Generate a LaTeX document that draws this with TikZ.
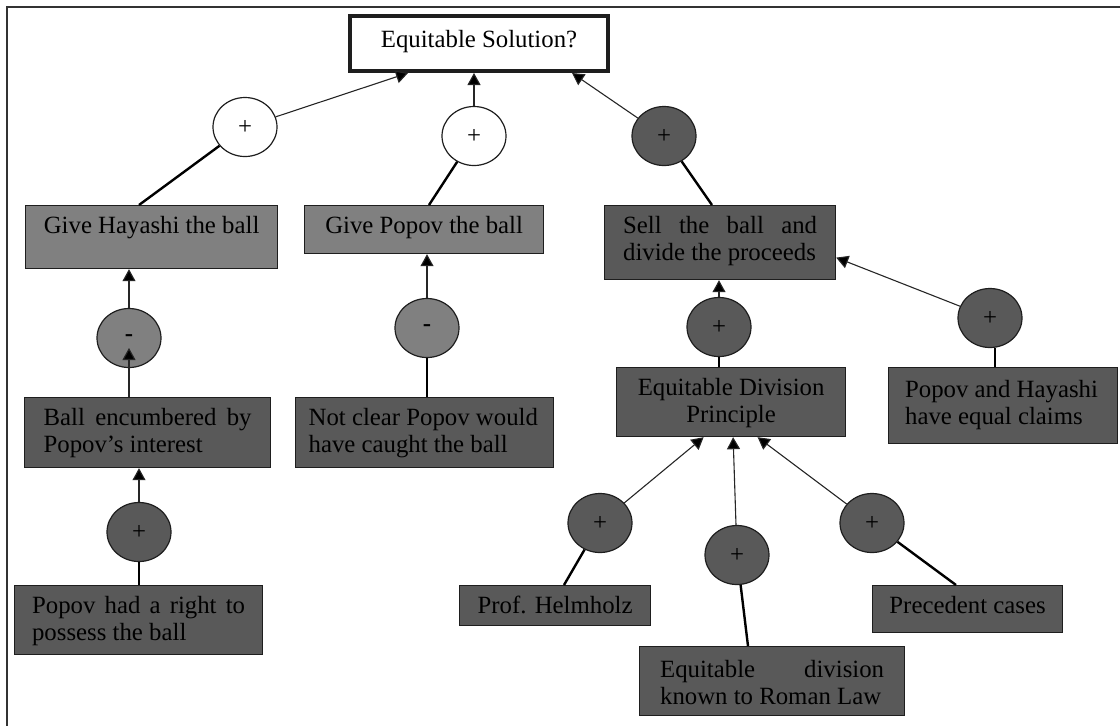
\documentclass[tikz,border=0pt]{standalone}
\usepackage{fontspec}
\setmainfont{Liberation Serif}
\usetikzlibrary{arrows.meta,shapes.geometric,calc}
\definecolor{midgray}{RGB}{128,128,128}
\definecolor{darkfill}{RGB}{89,89,89}
\definecolor{edge}{RGB}{30,30,30}
\newcommand\boxtxt[4][14pt]{\parbox[c][#3][t]{#2}{\rule{0pt}{#1}#4}}
\begin{document}
\begin{tikzpicture}[x=0.5pt,y=-0.5pt,
  every node/.style={font=\fontsize{12.4pt}{13.5pt}\selectfont},
  box/.style={draw=edge, line width=0.6pt, rectangle, anchor=north west, inner sep=0pt},
  mid/.style={fill=midgray}, dark/.style={fill=darkfill},
  bub/.style={draw=edge, line width=0.6pt, ellipse, minimum width=32pt, minimum height=29.5pt, inner sep=0pt},
  arr/.style={draw=black!85, line width=0.55pt, -{Triangle[length=6pt,width=6.5pt,fill=black]}},
  link/.style={draw=black, line width=1.2pt},
]
\useasboundingbox (0,0) rectangle (1120,725);
\draw[line width=1pt, black!80] (7,730) -- (7,7) -- (1125,7);

% boxes
\node[box, line width=2pt, fill=white, minimum width=129pt, minimum height=27.5pt] (sol) at (348,14)
  {\boxtxt[15.5pt]{120pt}{27.5pt}{\centering Equitable Solution?}};
\node[box, mid, minimum width=126pt, minimum height=31.5pt] (hay) at (25,205)
  {\boxtxt{110pt}{31.5pt}{\centering Give Hayashi the ball}};
\node[box, mid, minimum width=119.5pt, minimum height=24pt] (pop) at (304,205)
  {\boxtxt{105pt}{24pt}{\centering Give Popov the ball}};
\node[box, dark, minimum width=115.5pt, minimum height=37pt] (sell) at (604,205)
  {\boxtxt{97pt}{37pt}{Sell the ball and\linebreak divide the proceeds}};
\node[box, dark, minimum width=123pt, minimum height=35pt] (ball) at (24,397)
  {\boxtxt{104pt}{35pt}{Ball encumbered by\linebreak Popov’s interest}};
\node[box, dark, minimum width=129pt, minimum height=35pt] (notclear) at (295,397)
  {\boxtxt{116pt}{35pt}{\raggedright Not clear Popov would\\have caught the ball}};
\node[box, dark, minimum width=124pt, minimum height=34.5pt] (popright) at (14,585)
  {\boxtxt{106.5pt}{34.5pt}{Popov had a right to\linebreak possess the ball}};
\node[box, dark, minimum width=114.5pt, minimum height=34.5pt] (eqdiv) at (616,367)
  {\boxtxt{110pt}{34.5pt}{\centering Equitable Division\\Principle}};
\node[box, dark, minimum width=114.5pt, minimum height=38pt] (phequal) at (888,367)
  {\boxtxt[15pt]{98pt}{38pt}{\raggedright Popov and Hayashi\\have equal claims}};
\node[box, dark, minimum width=95.5pt, minimum height=20pt] (helm) at (459,585)
  {\boxtxt{90pt}{20pt}{\centering Prof. Helmholz}};
\node[box, dark, minimum width=95pt, minimum height=23.5pt] (prec) at (872,585)
  {\boxtxt{90pt}{23.5pt}{\centering Precedent cases}};
\node[box, dark, minimum width=132.5pt, minimum height=34.5pt] (roman) at (639,646)
  {\boxtxt[15.5pt]{112pt}{34.5pt}{Equitable division\linebreak known to Roman Law}};

% bubbles
\node[bub, fill=white] (c1) at (245,127) {+};
\node[bub, fill=white] (c2) at (474,136) {+};
\node[bub, dark] (c3) at (664,136) {+};
\node[bub, mid] (cm1) at (129,338) {\textbf{-}};
\node[bub, dark] (cp1) at (139,532) {+};
\node[bub, mid] (cm2) at (427,328) {\textbf{-}};
\node[bub, dark] (cs) at (719,327) {+};
\node[bub, dark] (cr) at (990,318) {+};
\node[bub, dark] (ch) at (600,523) {+};
\node[bub, dark] (cro) at (737,555) {+};
\node[bub, dark] (cpr) at (872,523) {+};

% arrows
\draw[arr] (c1) -- ([xshift=30pt]sol.south west);
\draw[arr] (c2) -- (c2 |- sol.south);
\draw[arr] (c3) -- ([xshift=-19pt]sol.south east);
\draw[arr] (cm1) -- (cm1 |- hay.south);
\draw[arr] (ball.north -| cm1) -- ([yshift=-5pt]cm1.center);
\draw[arr] (cp1) -- (cp1 |- ball.south);
\draw[arr] (cm2) -- (cm2 |- pop.south);
\draw[arr] (cs) -- (cs |- sell.south);
\draw[arr] (cr) -- ([yshift=-7.5pt]sell.east);
\draw[arr] (ch) -- ([xshift=-13.75pt]eqdiv.south);
\draw[arr] (cro) -- ([xshift=1pt]eqdiv.south);
\draw[arr] (cpr) -- ([xshift=13.25pt]eqdiv.south);

% plain links
\draw[link] ([xshift=57pt]hay.north west) -- (c1);
\draw[link] ([xshift=62.5pt]pop.north west) -- (c2);
\draw[link] ([xshift=54pt]sell.north west) -- (c3);
\draw[link] (cm2) -- (cm2 |- notclear.north);
\draw[link] (cp1) -- (cp1 |- popright.north);
\draw[link] (cs) -- (cs |- eqdiv.north);
\draw[link] ([xshift=2.5pt]cr.south) -- ([xshift=2.5pt]cr.south |- phequal.north);
\draw[link] ([xshift=52.5pt]helm.north west) -- (ch);
\draw[link] ([xshift=54.5pt]roman.north west) -- (cro);
\draw[link] ([xshift=42pt]prec.north west) -- (cpr);
\end{tikzpicture}
\end{document}
